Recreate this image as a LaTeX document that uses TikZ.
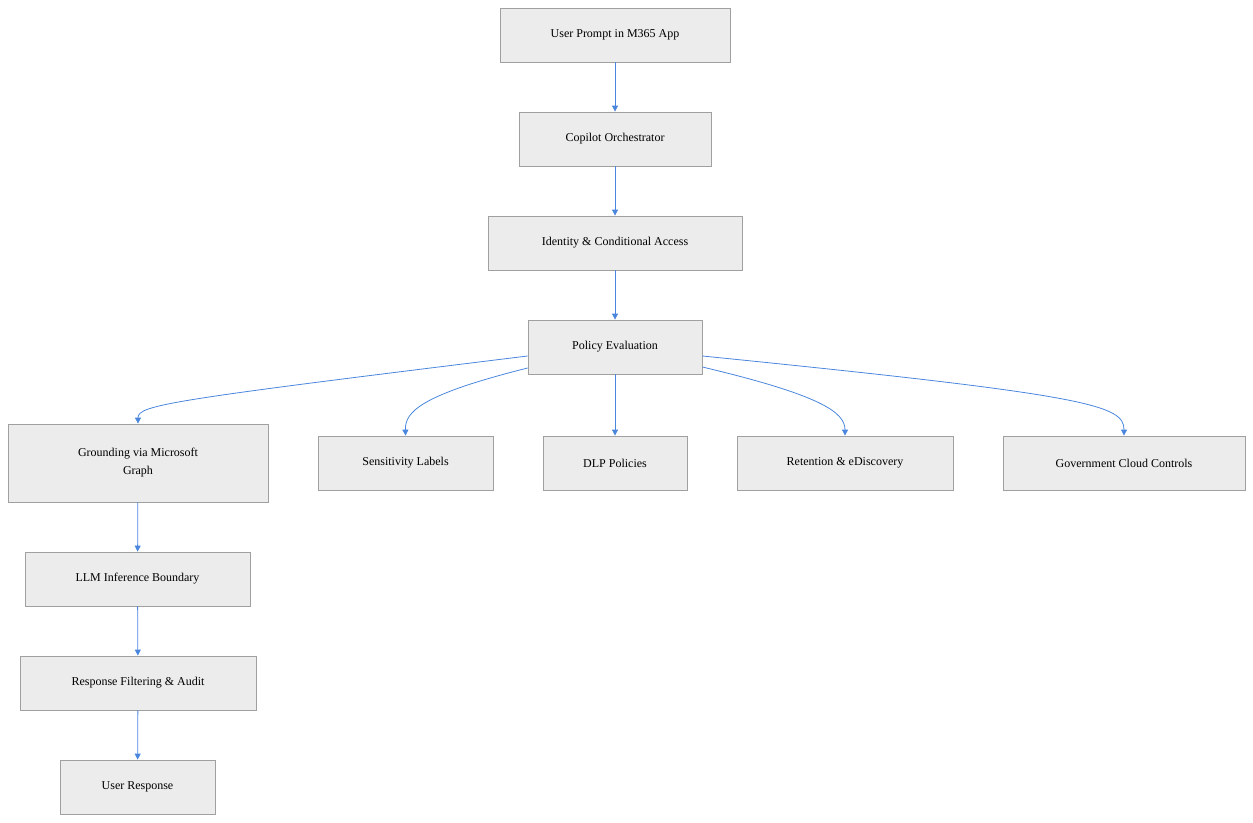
\documentclass[tikz,border=0pt]{standalone}
\usepackage{fontspec}
\setmainfont{Liberation Serif}
\usetikzlibrary{arrows.meta}
\definecolor{boxfill}{HTML}{ECECEC}
\definecolor{boxline}{HTML}{A0A0A0}
\definecolor{arr}{HTML}{4A86DD}
\begin{document}
\begin{tikzpicture}[x=1pt,y=-1pt,
 box/.style={draw=boxline,fill=boxfill,line width=0.8pt,inner sep=0pt,align=center,font=\fontsize{12}{18}\selectfont},
 conn/.style={draw=arr,line width=0.8pt,-{Triangle[length=6pt,width=6pt]}}]
\useasboundingbox (0,0) rectangle (1253,822);
\newcommand{\bx}[6]{\node[box,minimum width=#4-#2,minimum height=#5-#3] (#1) at ({(#2+#4)/2},{(#3+#5)/2}) {#6};}
\bx{up}{500}{8}{730}{62}{User Prompt in M365 App}
\bx{co}{519}{112}{711}{166}{Copilot Orchestrator}
\bx{id}{488}{216}{742}{270}{Identity \& Conditional Access}
\bx{pe}{528}{320}{702}{374}{Policy Evaluation}
\bx{gr}{8}{424}{268}{502}{Grounding via Microsoft\\Graph}
\bx{sl}{318}{436}{493}{490}{Sensitivity Labels}
\bx{dlp}{543}{436}{687}{490}{DLP Policies}
\bx{re}{737}{436}{953}{490}{Retention \& eDiscovery}
\bx{gc}{1003}{436}{1245}{490}{Government Cloud Controls}
\bx{llm}{25}{552}{250}{606}{LLM Inference Boundary}
\bx{rf}{20}{656}{256}{710}{Response Filtering \& Audit}
\bx{ur}{60}{760}{215}{814}{User Response}
\draw[conn] (up) -- (co);
\draw[conn] (co) -- (id);
\draw[conn] (id) -- (pe);
\draw[conn] (pe) -- (dlp);
\draw[conn] (pe.west |- 0,356) .. controls (170,400) and (138,405) .. (gr.north);
\draw[conn] (pe.west |- 0,368) .. controls (420,395) and (405,412) .. (sl.north);
\draw[conn] (pe.east |- 0,367) .. controls (820,395) and (845,412) .. (re.north);
\draw[conn] (pe.east |- 0,356) .. controls (1090,395) and (1124,405) .. (gc.north);
\draw[conn] (gr) -- (llm);
\draw[conn] (llm) -- (rf);
\draw[conn] (rf) -- (ur);
\end{tikzpicture}
\end{document}
